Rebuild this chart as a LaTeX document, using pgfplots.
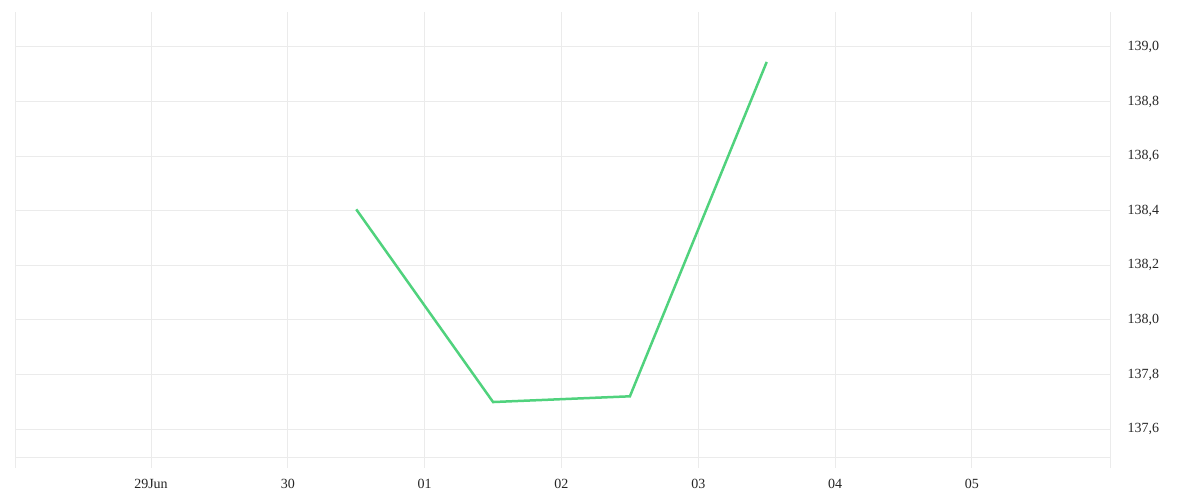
\documentclass[border=0pt]{standalone}
\usepackage{pgfplots}
\pgfplotsset{compat=1.18}
\usepackage{fontspec}
\setmainfont{Liberation Serif}
\definecolor{gridc}{RGB}{235,235,235}
\definecolor{linec}{RGB}{80,210,125}
\begin{document}
\begin{tikzpicture}[x=1pt,y=1pt]
\useasboundingbox (0,0) rectangle (1200,500);
\begin{axis}[
  at={(15pt,42pt)}, anchor=south west,
  scale only axis, width=1095pt, height=446pt,
  xmin=-0.994, xmax=7.009,
  ymin=137.494, ymax=139.128,
  axis line style={draw=none},
  xtick={0,1,2,3,4,5,6},
  xticklabels={29Jun,30,01,02,03,04,05},
  extra x ticks={-0.994,7.009},
  extra x tick labels={},
  extra x tick style={grid=major},
  ytick={137.6,137.8,138.0,138.2,138.4,138.6,138.8,139.0},
  extra y ticks={137.494},
  extra y tick labels={},
  extra y tick style={grid=major},
  grid=major,
  major grid style={gridc, line width=1pt},
  major tick length=10pt,
  tick align=outside,
  xtick pos=bottom,
  ytick pos=right,
  x tick style={gridc, line width=1pt},
  y tick style={draw=none},
  yticklabel pos=right,
  yticklabel style={anchor=west, xshift=4pt, font=\fontsize{14}{16}\selectfont, text=black!85},
  xticklabel style={font=\fontsize{14}{16}\selectfont, text=black!85, yshift=-8pt},
  /pgf/number format/assume math mode=true,
  /pgf/number format/.cd, fixed, fixed zerofill, precision=1, use comma,
]
\addplot[linec, line width=2.5pt] coordinates {
  (1.5,138.405) (2.5,137.699) (3.5,137.720) (4.5,138.945)
};
\end{axis}
\end{tikzpicture}
\end{document}
